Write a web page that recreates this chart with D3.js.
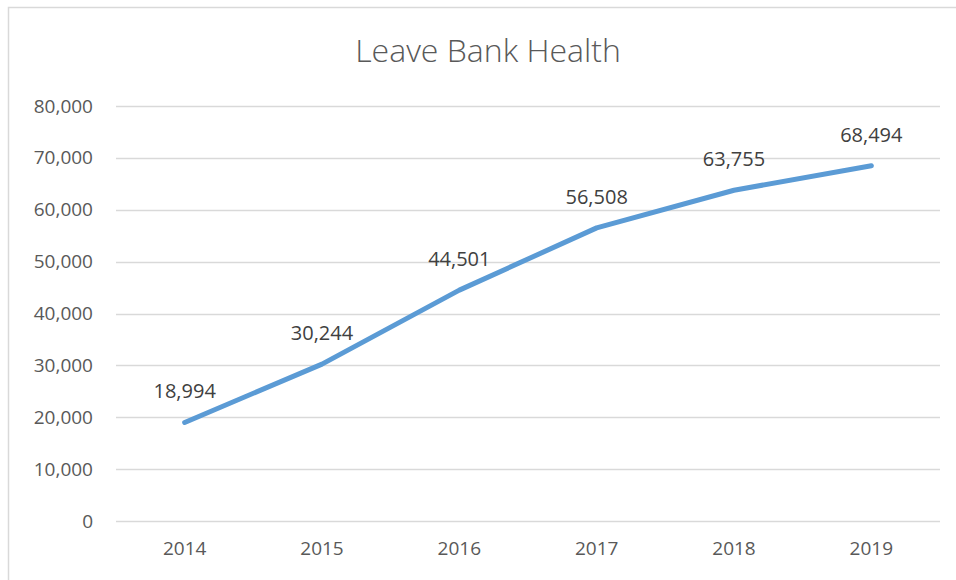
<!DOCTYPE html>
<html>
<head>
<meta charset="utf-8">
<script src="https://cdn.jsdelivr.net/npm/d3@7"></script>
<style>
  body { margin: 0; background: #fff; }
  svg { display: block; font-family: "Open Sans", sans-serif; }
</style>
</head>
<body>
<script>
// data
const years = ["2014", "2015", "2016", "2017", "2018", "2019"];
const balances = [18994, 30244, 44501, 56508, 63755, 68494];
const yTicks = [0, 10000, 20000, 30000, 40000, 50000, 60000, 70000, 80000];
const chartTitle = "Leave Bank Health";

const width = 956, height = 580;
const margin = { top: 106, right: 16, bottom: 59, left: 116 };
const textColor = "#595959";

const svg = d3.select("body").append("svg")
  .attr("width", width)
  .attr("height", height);

// chart frame (only top and left edges fall inside the picture)
svg.append("path")
  .attr("d", "M8.5," + height + "V7.5H" + width)
  .attr("fill", "none")
  .attr("stroke", "#d9d9d9")
  .attr("stroke-width", 1.5);

svg.append("text")
  .attr("x", 488)
  .attr("y", 62)
  .attr("text-anchor", "middle")
  .attr("font-size", "32px")
  .attr("font-weight", 300)
  .attr("fill", textColor)
  .text(chartTitle);

const x = d3.scaleBand()
  .domain(years)
  .range([margin.left, width - margin.right]);

const y = d3.scaleLinear()
  .domain([0, 80000])
  .range([height - margin.bottom, margin.top]);

const g = svg.append("g");

// gridlines
g.selectAll(".grid")
  .data(yTicks)
  .enter()
  .append("line")
  .attr("x1", margin.left)
  .attr("x2", width - margin.right)
  .attr("y1", d => Math.round(y(d)) + 0.5)
  .attr("y2", d => Math.round(y(d)) + 0.5)
  .attr("stroke", "#d9d9d9")
  .attr("stroke-width", 1.5);

// y axis labels
const yAxis = svg.append("g")
  .attr("transform", "translate(" + (margin.left - 23) + ",0)")
  .call(d3.axisLeft(y).tickValues(yTicks).tickSize(0).tickFormat(d3.format(",")));
yAxis.select(".domain").remove();
yAxis.selectAll("text")
  .attr("font-family", "Open Sans, sans-serif")
  .attr("font-size", "19px")
  .attr("fill", textColor)
  .attr("x", 0);

// x axis labels
const xAxis = svg.append("g")
  .attr("transform", "translate(0," + (height - margin.bottom) + ")")
  .call(d3.axisBottom(x).tickSize(0));
xAxis.select(".domain").remove();
xAxis.selectAll("text")
  .attr("font-family", "Open Sans, sans-serif")
  .attr("font-size", "19px")
  .attr("fill", textColor)
  .attr("y", 21);

const pts = years.map((yr, i) => ({ year: yr, value: balances[i] }));

const line = d3.line()
  .x(d => x(d.year) + x.bandwidth() / 2)
  .y(d => y(d.value));

svg.append("path")
  .datum(pts)
  .attr("d", line)
  .attr("fill", "none")
  .attr("stroke", "#5b9bd5")
  .attr("stroke-width", 5)
  .attr("stroke-linecap", "round")
  .attr("stroke-linejoin", "round");

// data labels
svg.selectAll(".lbl")
  .data(pts)
  .enter()
  .append("text")
  .attr("x", d => x(d.year) + x.bandwidth() / 2)
  .attr("y", d => y(d.value) - 24)
  .attr("text-anchor", "middle")
  .attr("font-size", "20px")
  .attr("fill", "#404040")
  .text(d => d3.format(",")(d.value));
</script>
</body>
</html>
